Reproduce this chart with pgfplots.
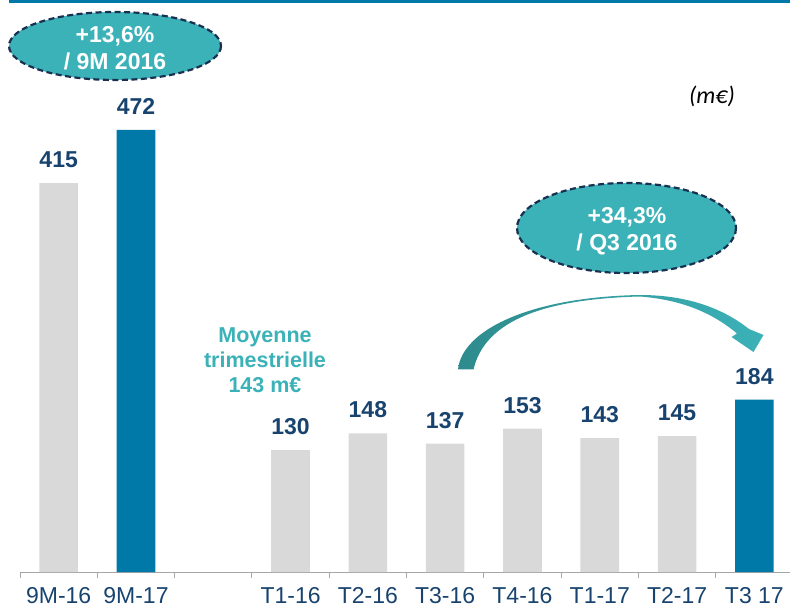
\documentclass[border=0pt]{standalone}
\usepackage{pgfplots}
\pgfplotsset{compat=1.18}
\usepackage{fontspec}
\setmainfont{Liberation Sans}
\newfontfamily\carlito{Carlito}
\definecolor{gbar}{HTML}{D9D9D9}
\definecolor{bbar}{HTML}{0079A9}
\definecolor{navy}{HTML}{17436E}
\definecolor{tealc}{HTML}{3BB2B8}
\definecolor{tealdark}{HTML}{2E8B8D}
\definecolor{dashc}{HTML}{1B2F50}
\definecolor{axc}{HTML}{A6A6A6}
\begin{document}
\begin{tikzpicture}
\begin{axis}[
  at={(0,0)}, anchor=south west,
  scale only axis, width=770bp, height=572bp,
  xmin=-0.5, xmax=9.461, ymin=0, ymax=610.5,
  hide y axis,
  axis x line*=bottom,
  x axis line style={draw=axc, line width=1bp},
  xtick={0,...,9},
  xticklabels={9M-16,9M-17,,T1-16,T2-16,T3-16,T4-16,T1-17,T2-17,T3 17},
  major x tick style={draw=none},
  minor xtick={-0.5,0.5,...,8.5},
  minor x tick style={draw=axc, line width=1bp},
  minor tick length=6bp,
  major tick length=0pt,
  tick align=outside,
  xticklabel style={font=\fontsize{23bp}{27bp}\selectfont, text=navy, anchor=base, inner sep=0pt, yshift=-31.5bp},
  ybar, bar width=0.5, bar shift=0pt,
  nodes near coords,
  nodes near coords style={font=\bfseries\fontsize{23bp}{27bp}\selectfont, text=navy, anchor=base, yshift=15.5bp},
  /pgf/number format/assume math mode=true,
  clip=false,
]
\addplot[fill=gbar, draw=none] coordinates {(0,415) (3,130) (4,148) (5,137) (6,153) (7,143) (8,145)};
\addplot[fill=bbar, draw=none] coordinates {(1,472) (9,184)};
\end{axis}
\begin{scope}[shift={(-20bp,572bp)}, x=1bp, y=-1bp]
  \fill[bbar] (9,0) rectangle (790,2.7);
  \draw[dashc, fill=tealc, line width=2.2bp, dash pattern=on 6bp off 3.5bp] (115,46) ellipse [x radius=106, y radius=34];
  \node[white, font=\bfseries\fontsize{23bp}{26.7bp}\selectfont, align=center] at (115,48) {+13,6\%\\/ 9M 2016};
  \draw[dashc, fill=tealc, line width=2.2bp, dash pattern=on 6bp off 3.5bp] (626.5,228) ellipse [x radius=109.5, y radius=45];
  \node[white, font=\bfseries\fontsize{23bp}{27bp}\selectfont, align=center] at (627,231) {+34,3\%\\/ Q3 2016};
  \node[tealc, font=\bfseries\fontsize{21.5bp}{25bp}\selectfont, align=center] at (265,360) {Moyenne\\trimestrielle\\143 m€};
  \node[black, font=\carlito\itshape\fontsize{24bp}{28bp}\selectfont] at (712,96) {(m€)};
  \shade[left color=tealdark, right color=tealc]
    (458,369.5) .. controls (462,330) and (530,297) .. (640,295)
    .. controls (690,295) and (725,310) .. (749,329)
    -- (763.5,335) -- (753.5,352) -- (731.5,337) -- (737,333.5)
    .. controls (715,315) and (685,300) .. (640,296.5)
    .. controls (545,299) and (485,320) .. (473.5,369.5) -- cycle;
  \pgfresetboundingbox
  \path[use as bounding box] (0,0) rectangle (790,610);
\end{scope}
\end{tikzpicture}
\end{document}
